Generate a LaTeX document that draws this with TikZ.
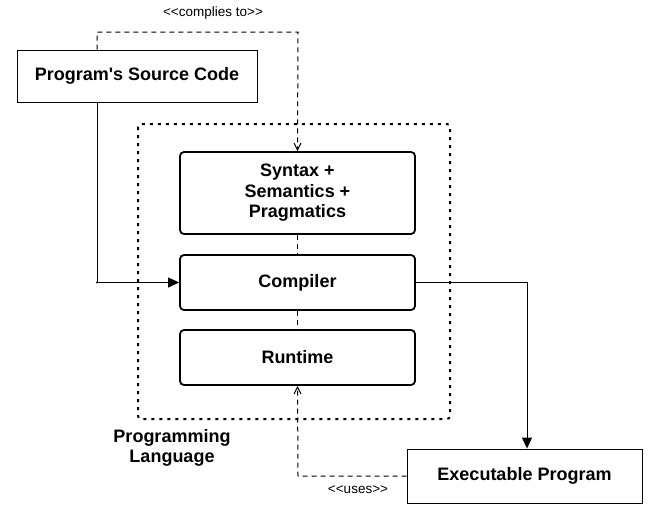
\documentclass[tikz,border=0pt]{standalone}
\usepackage{fontspec}
\newfontfamily\hv{Liberation Sans}
\usetikzlibrary{arrows.meta}
\begin{document}
\begin{tikzpicture}[x=1pt,y=-1pt,
  plainbox/.style={draw,line width=0.9pt,fill=white,inner sep=0pt,font=\hv\bfseries\fontsize{18}{20.5}\selectfont,align=center},
  roundbox/.style={plainbox,line width=1.8pt,rounded corners=4pt},
  flow/.style={line width=0.9pt,-{Triangle[length=11pt,width=10pt]}},
  dep/.style={line width=1pt,dash pattern=on 5pt off 4pt,-{Straight Barb[length=7pt,width=7pt]}},
  lbl/.style={font=\hv\fontsize{13.5}{15}\selectfont,inner sep=1pt},
  container/.style={line width=2pt,dash pattern=on 3pt off 5pt,rounded corners=3pt}]
\useasboundingbox (0,0) rectangle (652,512);
% container
\draw[container] (138,124) rectangle (450,419);
% boxes
\node[plainbox,minimum width=240pt,minimum height=52pt] (src) at (137,76) {Program's Source Code};
\node[roundbox,minimum width=235pt,minimum height=82pt] (syn) at (297.5,193) {Syntax +\\Semantics +\\Pragmatics};
\node[roundbox,minimum width=235pt,minimum height=55pt] (comp) at (297.5,282.5) {Compiler};
\node[roundbox,minimum width=235pt,minimum height=55pt] (run) at (297.5,357.5) {Runtime};
\node[plainbox,minimum width=235pt,minimum height=54pt] (exe) at (524.5,476) {Executable Program};
\node[font=\hv\bfseries\fontsize{18}{20}\selectfont,align=center] (pl) at (172,447.5) {Programming\\Language};
% connectors between stacked boxes
\draw[line width=1pt,dash pattern=on 5pt off 4pt] (syn.south) -- (comp.north);
\draw[line width=1pt,dash pattern=on 5pt off 4pt] (comp.south) -- (run.north);
% source -> compiler
\coordinate (c1) at (97,282.5);
\draw[flow] (src.south -| c1) -- (c1) -- (comp.west);
\fill (c1) circle (1.2pt);
% compiler -> executable
\draw[flow] (comp.east) -| (exe.north -| 527,0);
% complies to
\coordinate (k1) at (97,32);
\coordinate (k2) at (298,32);
\draw[dep] (src.north -| k1) -- (k1) -- (k2) -- (syn.north);
\node[lbl] (lc) at (213,13) {<<complies to>>};
% uses
\coordinate (u1) at (298,476);
\draw[dep] (exe.west) -- (u1) -- (run.south);
\node[lbl] (lu) at (358,490) {<<uses>>};
\end{tikzpicture}
\end{document}
